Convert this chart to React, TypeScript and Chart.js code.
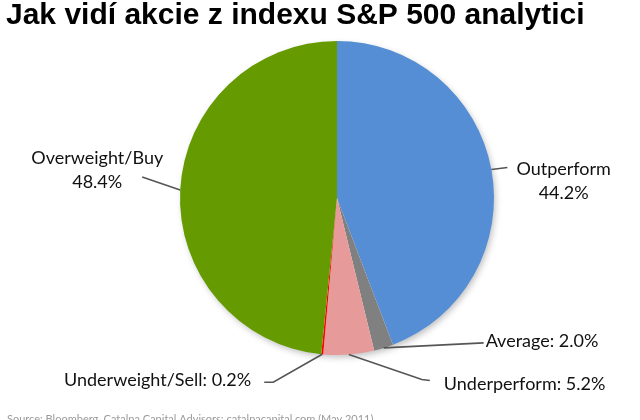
import React, { useEffect, useRef } from "react";
import { Chart, registerables } from "chart.js";

Chart.register(...registerables);

// ---- data ----
const TITLE = "Jak vidí akcie z indexu S&P 500 analytici";
const SOURCE = "Source: Bloomberg, Catalpa Capital Advisors; catalpacapital.com (May 2011)";
const categories = ["Outperform", "Average", "Underperform", "Underweight/Sell", "Overweight/Buy"];
const shares = [44.2, 2.0, 5.2, 0.2, 48.4];

// ---- styles / layout ----
const sliceColors = ["#558ED5", "#808080", "#E69A9A", "#FF0000", "#659A00"];
const LABEL_FONT = "18px Lato, 'Noto Sans', sans-serif";
const LINE_COLOR = "#555555";
// leader points and text anchor relative to the slice's outer-edge midpoint
const LABEL_LAYOUT: { leader: number[][]; text: number[]; align: "left" | "right"; stacked: boolean }[] = [
  { leader: [[16, -2]], text: [25, 12], align: "left", stacked: true },
  { leader: [[100, -5]], text: [102, -7], align: "left", stacked: false },
  { leader: [[73, 25], [81, 26]], text: [95, 30], align: "left", stacked: false },
  { leader: [[-49, 28], [-58, 28]], text: [-71, 26], align: "right", stacked: false },
  { leader: [[-38, -13]], text: [-17, -20], align: "right", stacked: true },
];

const decorPlugin = {
  id: "decor",
  beforeDatasetsDraw(chart: any) {
    const ctx = chart.ctx;
    const arc = chart.getDatasetMeta(0).data[0];
    if (!arc) return;
    const { x, y, outerRadius } = arc.getProps(["x", "y", "outerRadius"], true);
    ctx.save();
    ctx.shadowColor = "rgba(0,0,0,0.28)";
    ctx.shadowBlur = 7;
    ctx.shadowOffsetX = 2;
    ctx.shadowOffsetY = 3;
    ctx.fillStyle = "#ffffff";
    ctx.beginPath();
    ctx.arc(x, y, outerRadius - 1, 0, Math.PI * 2);
    ctx.fill();
    ctx.restore();
  },
  afterDatasetsDraw(chart: any) {
    const ctx = chart.ctx;
    const meta = chart.getDatasetMeta(0);
    ctx.save();
    meta.data.forEach((el: any, i: number) => {
      const { x, y, startAngle, endAngle, outerRadius } = el.getProps(
        ["x", "y", "startAngle", "endAngle", "outerRadius"],
        true
      );
      const mid = (startAngle + endAngle) / 2;
      const ex = x + Math.cos(mid) * outerRadius;
      const ey = y + Math.sin(mid) * outerRadius;
      const lay = LABEL_LAYOUT[i];
      // leader line
      ctx.strokeStyle = LINE_COLOR;
      ctx.lineWidth = 1.6;
      ctx.beginPath();
      ctx.moveTo(ex, ey);
      lay.leader.forEach((p) => ctx.lineTo(ex + p[0], ey + p[1]));
      ctx.stroke();
      // text
      const value = shares[i].toFixed(1) + "%";
      const lines = lay.stacked ? [categories[i], value] : [categories[i] + ": " + value];
      ctx.font = LABEL_FONT;
      ctx.fillStyle = "#111111";
      ctx.textBaseline = "middle";
      ctx.textAlign = "center";
      const w = Math.max(...lines.map((l) => ctx.measureText(l).width));
      const ax = ex + lay.text[0];
      const ay = ey + lay.text[1];
      const cxText = lay.align === "left" ? ax + w / 2 : ax - w / 2;
      const lh = 24;
      const y0 = ay - ((lines.length - 1) * lh) / 2;
      lines.forEach((l, k) => ctx.fillText(l, cxText, y0 + k * lh));
    });
    ctx.restore();
  },
  afterDraw(chart: any) {
    const ctx = chart.ctx;
    ctx.save();
    ctx.fillStyle = "#000000";
    ctx.font = "bold 30px 'Liberation Sans', Arial, sans-serif";
    ctx.textAlign = "left";
    ctx.textBaseline = "alphabetic";
    ctx.fillText(TITLE, 6, 24);
    ctx.fillStyle = "#9a9a9a";
    ctx.font = "11px Lato, 'Noto Sans', sans-serif";
    ctx.fillText(SOURCE, 7, 423);
    ctx.restore();
  },
};

export default function App() {
  const ref = useRef<HTMLCanvasElement | null>(null);
  useEffect(() => {
    if (!ref.current) return;
    const chart = new Chart(ref.current, {
      type: "pie",
      data: {
        labels: categories,
        datasets: [
          {
            data: shares,
            backgroundColor: sliceColors,
            borderWidth: 0,
            hoverOffset: 0,
          },
        ],
      },
      options: {
        responsive: false,
        animation: false,
        events: [],
        layout: { padding: { left: 180, right: 146, top: 41, bottom: 65 } },
        plugins: {
          legend: { display: false },
          tooltip: { enabled: false },
          title: { display: false },
        },
      },
      plugins: [decorPlugin],
    });
    return () => chart.destroy();
  }, []);
  return (
    <div style={{ position: "fixed", left: 0, top: 0, width: 640, height: 420, background: "#ffffff", overflow: "hidden" }}>
      <canvas ref={ref} width={640} height={420} style={{ display: "block" }} />
    </div>
  );
}
